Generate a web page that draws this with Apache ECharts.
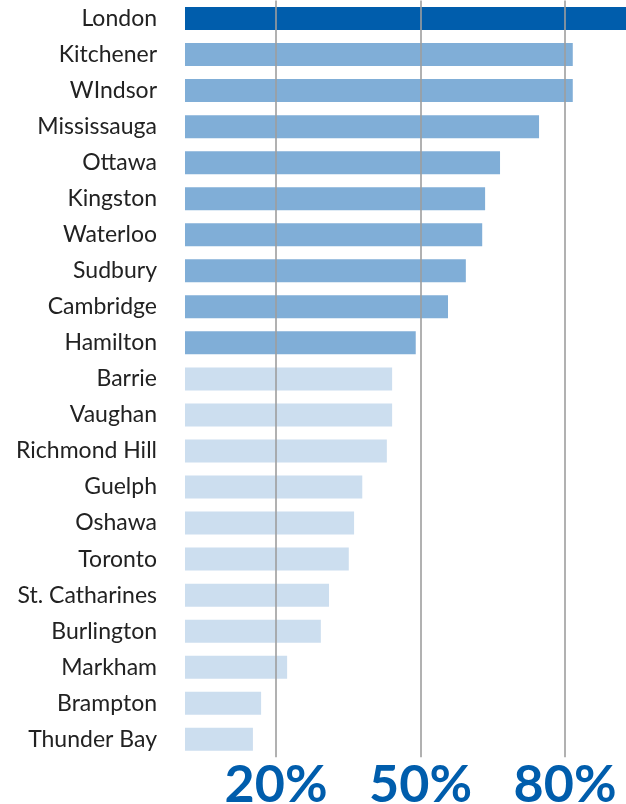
<!DOCTYPE html>
<html>
<head>
<meta charset="utf-8">
<style>
  html, body { margin: 0; padding: 0; background: #ffffff; }
  #chart { width: 626px; height: 804px; }
</style>
<script src="https://cdn.jsdelivr.net/npm/echarts@6/dist/echarts.min.js"></script>
</head>
<body>
<div id="chart"></div>
<script>
// Data
const cities = ["London", "Kitchener", "WIndsor", "Mississauga", "Ottawa", "Kingston", "Waterloo",
  "Sudbury", "Cambridge", "Hamilton", "Barrie", "Vaughan", "Richmond Hill", "Guelph", "Oshawa",
  "Toronto", "St. Catharines", "Burlington", "Markham", "Brampton", "Thunder Bay"];
const values = [93, 81.6, 81.6, 74.6, 66.5, 63.4, 62.8, 59.4, 55.7, 49.0, 44.1, 44.1, 43.0,
  37.9, 36.2, 35.1, 31.0, 29.3, 22.3, 16.9, 15.2];
const tiers = [0, 1, 1, 1, 1, 1, 1, 1, 1, 1, 2, 2, 2, 2, 2, 2, 2, 2, 2, 2, 2];
const tickValues = [20, 50, 80];

const tierColors = ['#005DAC', '#80AED7', '#CCDEEF'];

const chart = echarts.init(document.getElementById('chart'), null, { renderer: 'canvas' });
chart.setOption({
  animation: false,
  backgroundColor: '#ffffff',
  grid: { left: 185, right: 0, top: 0.5, bottom: 46.7, containLabel: false, outerBoundsMode: 'none' },
  xAxis: {
    type: 'value',
    min: 1.1,
    max: 92.65,
    axisLine: { show: false },
    axisTick: { show: false },
    splitLine: { show: false },
    axisLabel: {
      customValues: tickValues,
      formatter: '{value}%',
      color: '#005DAC',
      fontFamily: 'Lato',
      fontWeight: 'bold',
      fontSize: 52,
      margin: 2
    }
  },
  yAxis: {
    type: 'category',
    inverse: true,
    data: cities,
    axisLine: { show: false },
    axisTick: { show: false },
    axisLabel: {
      color: '#222222',
      fontFamily: 'Lato',
      fontSize: 23,
      margin: 28
    }
  },
  series: [{
    type: 'bar',
    barWidth: 23,
    data: values.map((v, i) => ({ value: v, itemStyle: { color: tierColors[tiers[i]] } })),
    markLine: {
      silent: true,
      symbol: ['none', 'none'],
      label: { show: false },
      lineStyle: { color: '#9E9E9E', width: 1.6, type: 'solid' },
      data: tickValues.map(t => ({ xAxis: t }))
    }
  }]
});
</script>
</body>
</html>
